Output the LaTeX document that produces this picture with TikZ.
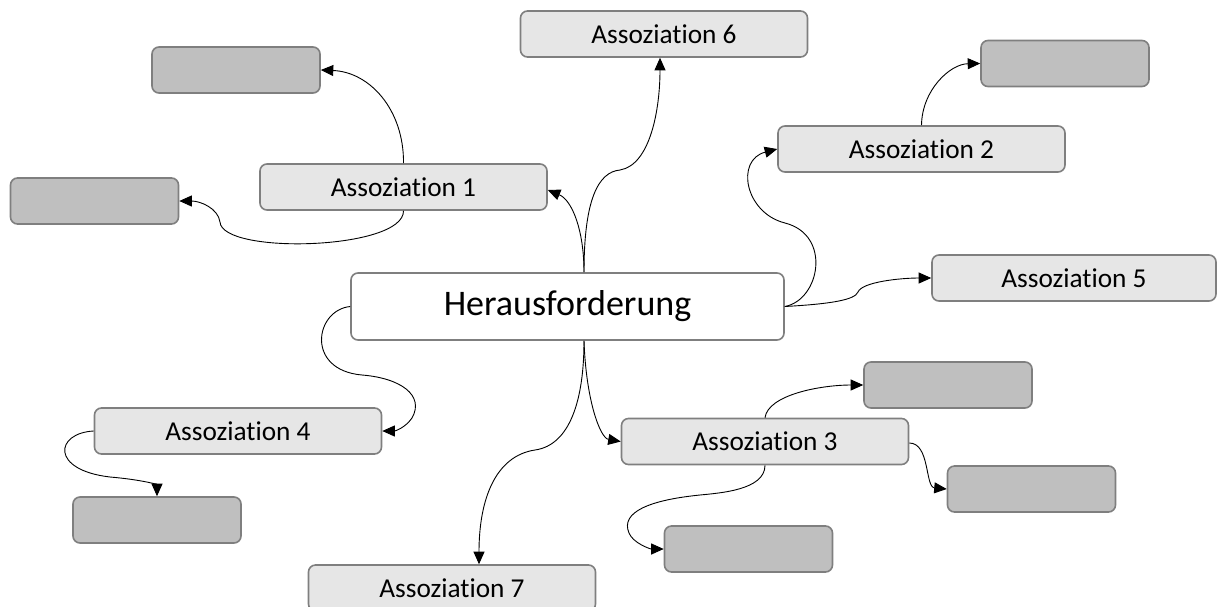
\documentclass[tikz,border=0pt]{standalone}
\usepackage{fontspec}
\setmainfont{Carlito}[Ligatures={NoCommon}]
\usetikzlibrary{arrows.meta}
\definecolor{edgegray}{HTML}{7F7F7F}
\definecolor{assocfill}{HTML}{E6E6E6}
\definecolor{leaffill}{HTML}{BFBFBF}
\tikzset{
  box/.style={draw=edgegray, line width=1.6pt, rounded corners=7pt, inner sep=0pt},
  hub/.style={box, fill=white, minimum width=433pt, minimum height=67pt,
              font=\fontsize{36}{40}\selectfont},
  assoc/.style={box, fill=assocfill, minimum width=287pt, minimum height=46pt,
                font=\fontsize{27.3}{30}\selectfont},
  leaf/.style={box, fill=leaffill, minimum width=168pt, minimum height=46pt},
  link/.style={draw=black, line width=0.9pt, -{Triangle[length=12.5pt,width=11pt]}}
}
\begin{document}
\begin{tikzpicture}[x=1pt, y=-1pt]
\clip (0,0) rectangle (1217,606);

% central topic
\node[hub] (C) at (567.5,306.5) {Herausforderung};

% associations
\node[assoc] (A1) at (403.5,187) {Assoziation 1};
\node[assoc] (A2) at (921.5,149) {Assoziation 2};
\node[assoc] (A3) at (765,441.5) {Assoziation 3};
\node[assoc] (A4) at (238,431) {Assoziation 4};
\node[assoc, minimum width=284pt] (A5) at (1074,278) {Assoziation 5};
\node[assoc] (A6) at (664,34) {Assoziation 6};
\node[assoc] (A7) at (452,588) {Assoziation 7};

% empty sub-associations
\node[leaf] (G1) at (236,70) {};
\node[leaf] (G2) at (94.5,201) {};
\node[leaf] (G3) at (1065,63.5) {};
\node[leaf] (G4) at (157,520) {};
\node[leaf] (G5) at (948,385) {};
\node[leaf] (G6) at (1031.5,489) {};
\node[leaf] (G7) at (748.5,549) {};

% connectors from the central topic
\draw[link] ([xshift=16.5pt]C.north) .. controls (584,230) and (572,200) .. ([yshift=-3pt]A1.east);
\draw[link] ([xshift=16.5pt]C.north) .. controls (584,200) and (598,172) .. (620,170)
            .. controls (650,165) and (660,110) .. ([xshift=-4pt]A6.south);
\draw[link] (C.east) .. controls (820,300) and (832,235) .. (785,223)
            .. controls (745,213) and (735,160) .. (A2.west);
\draw[link] (C.east) .. controls (830,304) and (855,300) .. (858,292)
            .. controls (862,282) and (900,278) .. (A5.west);
\draw[link] (C.west) .. controls (315,310) and (305,370) .. (362,375)
            .. controls (400,378) and (425,395) .. (412,418)
            .. controls (405,428) and (395,431) .. (A4.east);
\draw[link] ([xshift=16.5pt]C.south) .. controls (584,400) and (570,445) .. (535,450)
            .. controls (495,456) and (479,500) .. ([xshift=27pt]A7.north);
\draw[link] ([xshift=16.5pt]C.south) .. controls (586,400) and (600,438) .. (A3.west);

% connectors to the sub-associations
\draw[link] (A1.north) .. controls (404,110) and (370,72) .. (G1.east);
\draw[link] (A1.south) .. controls (404,250) and (222,255) .. (220,222)
            .. controls (218,208) and (200,201) .. (G2.east);
\draw[link] (A2.north) .. controls (922,90) and (950,64) .. (G3.west);
\draw[link] (A4.west) .. controls (55,433) and (50,470) .. (110,477)
            .. controls (145,480) and (157,485) .. (G4.north);
\draw[link] (A3.north) .. controls (768,395) and (820,385) .. (G5.west);
\draw[link] ([yshift=-1.5pt]A3.east) .. controls (930,443) and (925,487) .. (G6.west);
\draw[link] (A3.south) .. controls (765,490) and (720,493) .. (700,495)
            .. controls (650,500) and (620,512) .. (629,533)
            .. controls (633,543) and (650,549) .. (G7.west);
\end{tikzpicture}
\end{document}
